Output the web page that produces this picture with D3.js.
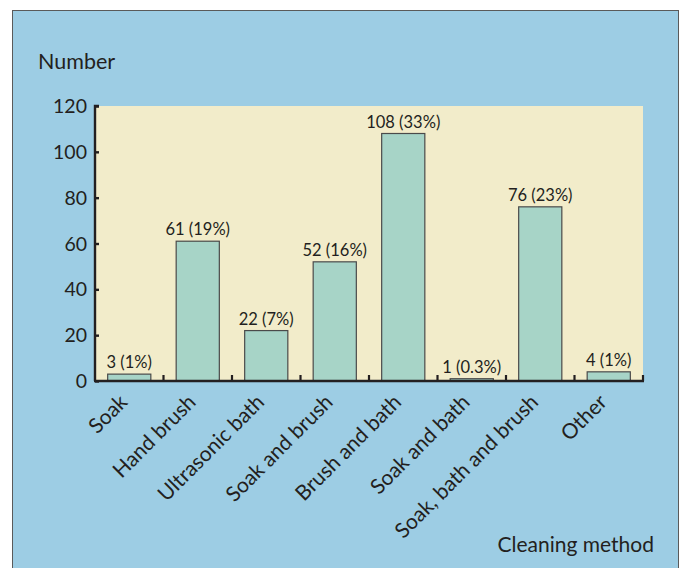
<!DOCTYPE html>
<html>
<head>
<meta charset="utf-8">
<script src="https://cdn.jsdelivr.net/npm/d3@7"></script>
<style>
  html, body { margin: 0; padding: 0; background: #ffffff; }
  svg { display: block; }
  text { font-family: Lato, "Open Sans", sans-serif; fill: #231f20; }
</style>
</head>
<body>
<svg id="chart" width="679" height="568"></svg>
<script>
// Cleaning methods and counts (with share of respondents)
const categories = ["Soak", "Hand brush", "Ultrasonic bath", "Soak and brush",
  "Brush and bath", "Soak and bath", "Soak, bath and brush", "Other"];
const counts = [3, 61, 22, 52, 108, 1, 76, 4];
const percents = ["1%", "19%", "7%", "16%", "33%", "0.3%", "23%", "1%"];
const yTicks = [0, 20, 40, 60, 80, 100, 120];

const svg = d3.select("#chart");

// Panel background with thin border
svg.append("rect")
  .attr("x", 12.5).attr("y", 10.5)
  .attr("width", 666).attr("height", 570)
  .attr("fill", "#9dcde4")
  .attr("stroke", "#5a5a5a").attr("stroke-width", 1);

const plot = { left: 95, right: 643, top: 106, bottom: 381 };

const x = d3.scaleBand()
  .domain(categories)
  .range([plot.left, plot.right])
  .paddingInner(0).paddingOuter(0);

const y = d3.scaleLinear()
  .domain([0, 120])
  .range([plot.bottom, plot.top]);

// Plot area fill
svg.append("rect")
  .attr("x", plot.left).attr("y", plot.top)
  .attr("width", plot.right - plot.left)
  .attr("height", plot.bottom - plot.top)
  .attr("fill", "#f2ecca");

// Bars
const barW = x.bandwidth() * 0.63;
svg.append("g").selectAll("rect")
  .data(categories)
  .join("rect")
  .attr("x", (d) => x(d) + (x.bandwidth() - barW) / 2)
  .attr("y", (d, i) => y(counts[i]))
  .attr("width", barW)
  .attr("height", (d, i) => y(0) - y(counts[i]))
  .attr("fill", "#a7d4c7")
  .attr("stroke", "#4a4a4a")
  .attr("stroke-width", 1.2);

// Value labels
svg.append("g").selectAll("text")
  .data(categories)
  .join("text")
  .attr("x", (d) => x(d) + x.bandwidth() / 2)
  .attr("y", (d, i) => y(counts[i]) - 6)
  .attr("text-anchor", "middle")
  .style("font-size", "16.5px")
  .text((d, i) => `${counts[i]} (${percents[i]})`);

// Y axis: ticks point into the plot
const yAxis = d3.axisRight(y).tickValues(yTicks).tickSize(4).tickFormat("");
const gy = svg.append("g")
  .attr("transform", `translate(${plot.left},0)`)
  .call(yAxis);
gy.select(".domain").attr("stroke", "#231f20").attr("stroke-width", 2.4)
  .attr("d", `M${4},${plot.top}H0V${plot.bottom}`);
gy.selectAll(".tick line").attr("stroke", "#231f20").attr("stroke-width", 2.4);

svg.append("g").selectAll("text")
  .data(yTicks)
  .join("text")
  .attr("x", plot.left - 8)
  .attr("y", (d) => y(d))
  .attr("dy", "0.36em")
  .attr("text-anchor", "end")
  .style("font-size", "19.5px")
  .text((d) => d);

// X axis: baseline with upward ticks at band edges
const edges = categories.map((d) => x(d)).concat([plot.right]).slice(1);
svg.append("line")
  .attr("x1", plot.left - 1).attr("x2", plot.right + 1)
  .attr("y1", plot.bottom).attr("y2", plot.bottom)
  .attr("stroke", "#231f20").attr("stroke-width", 2.6);
svg.append("g").selectAll("line")
  .data(edges)
  .join("line")
  .attr("x1", (d) => d).attr("x2", (d) => d)
  .attr("y1", plot.bottom).attr("y2", plot.bottom - 6)
  .attr("stroke", "#231f20").attr("stroke-width", 2.2);

// Rotated category labels
svg.append("g").selectAll("text")
  .data(categories)
  .join("text")
  .attr("transform", (d) => `translate(${x(d) + x.bandwidth() / 2 - 11},${plot.bottom + 12}) rotate(-45)`)
  .attr("text-anchor", "end")
  .attr("dy", "0.7em")
  .style("font-size", "21px")
  .text((d) => d);

// Axis titles
svg.append("text")
  .attr("x", 38).attr("y", 69)
  .style("font-size", "21.5px")
  .text("Number");

svg.append("text")
  .attr("x", 654).attr("y", 552)
  .attr("text-anchor", "end")
  .style("font-size", "21px")
  .text("Cleaning method");
</script>
</body>
</html>
